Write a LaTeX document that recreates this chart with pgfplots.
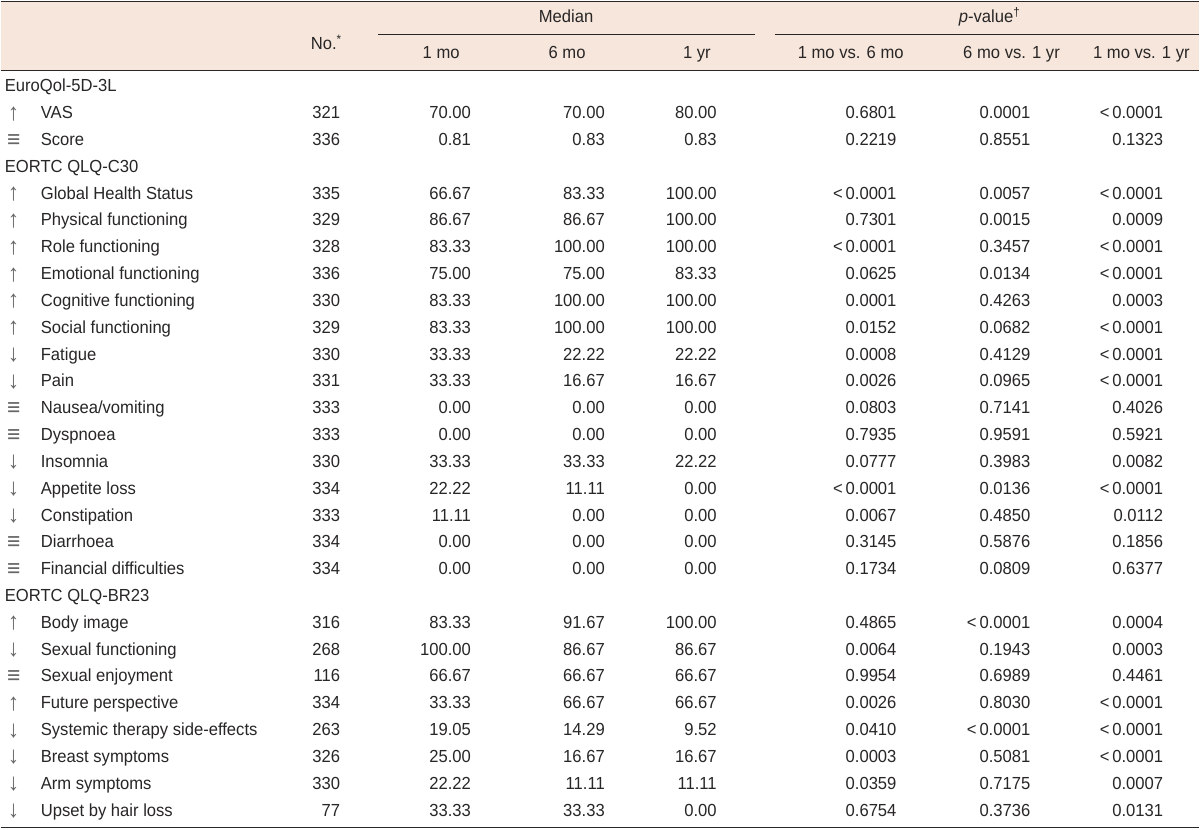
\documentclass[border=0pt]{standalone}
\usepackage{pgfplots}
\pgfplotsset{compat=1.18}
\usepackage{pgfplotstable}
\usepackage{fontspec}
\setmainfont[FakeStretch=0.95]{Liberation Sans}
\definecolor{hdr}{RGB}{246,230,219}
\definecolor{txt}{RGB}{40,38,38}
\newcommand\fs{\fontsize{17.5}{20}\selectfont}
\newcommand\fa{\fontsize{24}{26}\selectfont}
\pgfplotstableread[col sep=comma]{
r,arr,lab,n,ma,mb,mc,pa,pb,pc
1,↑,VAS,321,70.00,70.00,80.00,0.6801,0.0001,<\thinspace0.0001
2,≡,Score,336,0.81,0.83,0.83,0.2219,0.8551,0.1323
4,↑,Global Health Status,335,66.67,83.33,100.00,<\thinspace0.0001,0.0057,<\thinspace0.0001
5,↑,Physical functioning,329,86.67,86.67,100.00,0.7301,0.0015,0.0009
6,↑,Role functioning,328,83.33,100.00,100.00,<\thinspace0.0001,0.3457,<\thinspace0.0001
7,↑,Emotional functioning,336,75.00,75.00,83.33,0.0625,0.0134,<\thinspace0.0001
8,↑,Cognitive functioning,330,83.33,100.00,100.00,0.0001,0.4263,0.0003
9,↑,Social functioning,329,83.33,100.00,100.00,0.0152,0.0682,<\thinspace0.0001
10,↓,Fatigue,330,33.33,22.22,22.22,0.0008,0.4129,<\thinspace0.0001
11,↓,Pain,331,33.33,16.67,16.67,0.0026,0.0965,<\thinspace0.0001
12,≡,Nausea/vomiting,333,0.00,0.00,0.00,0.0803,0.7141,0.4026
13,≡,Dyspnoea,333,0.00,0.00,0.00,0.7935,0.9591,0.5921
14,↓,Insomnia,330,33.33,33.33,22.22,0.0777,0.3983,0.0082
15,↓,Appetite loss,334,22.22,11.11,0.00,<\thinspace0.0001,0.0136,<\thinspace0.0001
16,↓,Constipation,333,11.11,0.00,0.00,0.0067,0.4850,0.0112
17,≡,Diarrhoea,334,0.00,0.00,0.00,0.3145,0.5876,0.1856
18,≡,Financial difficulties,334,0.00,0.00,0.00,0.1734,0.0809,0.6377
20,↑,Body image,316,83.33,91.67,100.00,0.4865,<\thinspace0.0001,0.0004
21,↓,Sexual functioning,268,100.00,86.67,86.67,0.0064,0.1943,0.0003
22,≡,Sexual enjoyment,116,66.67,66.67,66.67,0.9954,0.6989,0.4461
23,↑,Future perspective,334,33.33,66.67,66.67,0.0026,0.8030,<\thinspace0.0001
24,↓,Systemic therapy side-effects,263,19.05,14.29,9.52,0.0410,<\thinspace0.0001,<\thinspace0.0001
25,↓,Breast symptoms,326,25.00,16.67,16.67,0.0003,0.5081,<\thinspace0.0001
26,↓,Arm symptoms,330,22.22,11.11,11.11,0.0359,0.7175,0.0007
27,↓,Upset by hair loss,77,33.33,33.33,0.00,0.6754,0.3736,0.0131
}\tbl
\pgfplotstableread[col sep=comma]{
r,lab
0,EuroQol-5D-3L
3,EORTC QLQ-C30
19,EORTC QLQ-BR23
}\sections
\pgfplotsset{
  col/.style n args={3}{draw=none, mark=none, nodes near coords, point meta=explicit symbolic,
    every node near coord/.append style={anchor=#2, inner sep=0pt, font=\fs, text=#3}},
}
\begin{document}
\begin{tikzpicture}
\begin{axis}[
  scale only axis, width=1200pt, height=830pt,
  xmin=0, xmax=1200, ymin=0, ymax=830, y dir=reverse,
  hide axis, clip=false,
]
\fill[white] (axis cs:0,0) rectangle (axis cs:1200,830);
\fill[hdr] (axis cs:0,2) rectangle (axis cs:1200,71);
\draw[txt, line width=1.4pt] (axis cs:0,1.5) -- (axis cs:1200,1.5);
\draw[txt, line width=1pt] (axis cs:0,71) -- (axis cs:1200,71);
\draw[txt, line width=1.4pt] (axis cs:0,828.5) -- (axis cs:1200,828.5);
\draw[txt, line width=0.8pt] (axis cs:378,34) -- (axis cs:755,34);
\draw[txt, line width=0.8pt] (axis cs:775,34) -- (axis cs:1200,34);
\node[anchor=base, font=\fs, text=txt, inner sep=0pt] at (axis cs:566,23) {Median};
\node[anchor=base, font=\fs, text=txt, inner sep=0pt] at (axis cs:990,23) {\textit{p}-value\textsuperscript{†}};
\node[anchor=base, font=\fs, text=txt, inner sep=0pt] at (axis cs:326,50) {No.\textsuperscript{*}};
\node[anchor=base, font=\fs, text=txt, inner sep=0pt] at (axis cs:441,59) {1 mo};
\node[anchor=base, font=\fs, text=txt, inner sep=0pt] at (axis cs:567,59) {6 mo};
\node[anchor=base, font=\fs, text=txt, inner sep=0pt] at (axis cs:697,59) {1 yr};
\node[anchor=base, font=\fs, text=txt, inner sep=0pt] at (axis cs:851,59) {1 mo vs. 6 mo};
\node[anchor=base, font=\fs, text=txt, inner sep=0pt] at (axis cs:1012,59) {6 mo vs. 1 yr};
\node[anchor=base, font=\fs, text=txt, inner sep=0pt] at (axis cs:1142,59) {1 mo vs. 1 yr};
\addplot[col={x}{base west}{txt}] table[x expr=4, y expr=92+26.85*\thisrow{r}, meta=lab] {\sections};
\addplot[col={x}{base}{black!60}, every node near coord/.append style={font=\fa}] table[x expr=13, y expr=93.5+26.85*\thisrow{r}, meta=arr] {\tbl};
\addplot[col={x}{base west}{txt}] table[x expr=40, y expr=92+26.85*\thisrow{r}, meta=lab] {\tbl};
\addplot[col={x}{base east}{txt}] table[x expr=340, y expr=92+26.85*\thisrow{r}, meta=n] {\tbl};
\addplot[col={x}{base east}{txt}] table[x expr=471, y expr=92+26.85*\thisrow{r}, meta=ma] {\tbl};
\addplot[col={x}{base east}{txt}] table[x expr=605, y expr=92+26.85*\thisrow{r}, meta=mb] {\tbl};
\addplot[col={x}{base east}{txt}] table[x expr=717, y expr=92+26.85*\thisrow{r}, meta=mc] {\tbl};
\addplot[col={x}{base east}{txt}] table[x expr=897, y expr=92+26.85*\thisrow{r}, meta=pa] {\tbl};
\addplot[col={x}{base east}{txt}] table[x expr=1031, y expr=92+26.85*\thisrow{r}, meta=pb] {\tbl};
\addplot[col={x}{base east}{txt}] table[x expr=1164, y expr=92+26.85*\thisrow{r}, meta=pc] {\tbl};
\end{axis}
\end{tikzpicture}
\end{document}
